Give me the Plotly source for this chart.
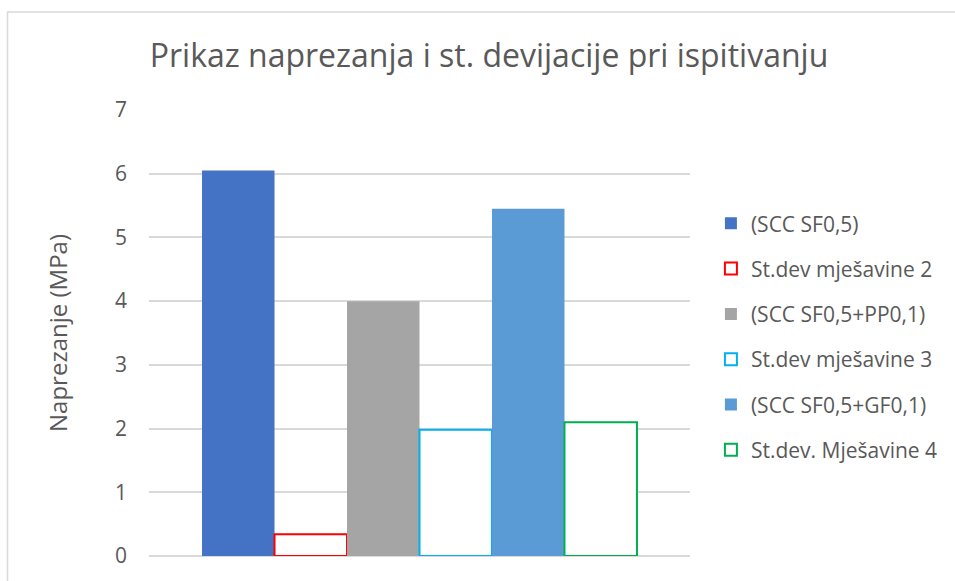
import plotly.graph_objects as go

# Series data: mean stress and standard deviation for each mix
series_names = [
    "(SCC SF0,5)",
    "St.dev mješavine 2",
    "(SCC SF0,5+PP0,1)",
    "St.dev mješavine 3",
    "(SCC SF0,5+GF0,1)",
    "St.dev. Mješavine 4",
]
series_values = [6.05, 0.34, 4.0, 1.98, 5.45, 2.1]
category = [""]
y_ticks = [0, 1, 2, 3, 4, 5, 6, 7]

# Styling: filled bars for means, outlined bars for deviations
fill_colors = ["#4472C4", "#FFFFFF", "#A5A5A5", "#FFFFFF", "#5B9BD5", "#FFFFFF"]
line_colors = ["#4472C4", "#FF0000", "#A5A5A5", "#00B0F0", "#5B9BD5", "#00B050"]
line_widths = [0, 2, 0, 2, 0, 2]

FONT = "Open Sans"
TEXT = "#595959"

fig = go.Figure()
for i, (name, val) in enumerate(zip(series_names, series_values)):
    fig.add_trace(go.Bar(
        x=category,
        y=[val],
        name=name,
        legendgroup=f"g{i}",
        marker=dict(color=fill_colors[i],
                    line=dict(color=line_colors[i], width=line_widths[i])),
        hoverinfo="name+y",
    ))

# Plot area geometry in pixels
W, H = 955, 581
L, R, T, B = 149, 692, 110, 560

def px_x(p):
    return (p - L) / (R - L)

def px_y(p):
    return (B - p) / (B - T)

fig.update_layout(
    width=W, height=H,
    margin=dict(l=L, r=W - R, t=T, b=H - B, pad=0),
    paper_bgcolor="white",
    plot_bgcolor="white",
    barmode="group",
    bargap=0.196,
    bargroupgap=0,
    font=dict(family=FONT, color=TEXT),
    title=dict(
        text="Prikaz naprezanja i st. devijacije pri ispitivanju",
        font=dict(family=FONT, size=32, color=TEXT),
        x=489 / W, xanchor="center",
        y=1 - 56 / H, yanchor="middle",
        xref="container", yref="container",
    ),
    xaxis=dict(showticklabels=False, showgrid=False, zeroline=False,
               showline=False, ticks="", fixedrange=True),
    yaxis=dict(
        range=[0, 7],
        tickvals=y_ticks,
        tickfont=dict(family=FONT, size=21, color=TEXT),
        showgrid=True, gridcolor="#D9D9D9", gridwidth=2,
        zeroline=True, zerolinecolor="#D9D9D9", zerolinewidth=2,
        showline=False, ticks="", ticklabelstandoff=21,
        title=dict(text="Naprezanje (MPa)",
                   font=dict(family=FONT, size=24, color=TEXT),
                   standoff=40),
        fixedrange=True,
    ),
    legend=dict(
        x=px_x(713), xanchor="left",
        y=px_y(204), yanchor="top",
        font=dict(family=FONT, size=21, color=TEXT),
        tracegroupgap=15,
        itemwidth=30,
        bgcolor="rgba(0,0,0,0)",
    ),
    showlegend=True,
    shapes=[dict(
        type="rect", xref="paper", yref="paper",
        x0=px_x(7), x1=px_x(970), y0=px_y(11), y1=px_y(600),
        line=dict(color="#D9D9D9", width=1.5),
        fillcolor="rgba(0,0,0,0)", layer="below",
    )],
)

fig.write_html("out.html")
